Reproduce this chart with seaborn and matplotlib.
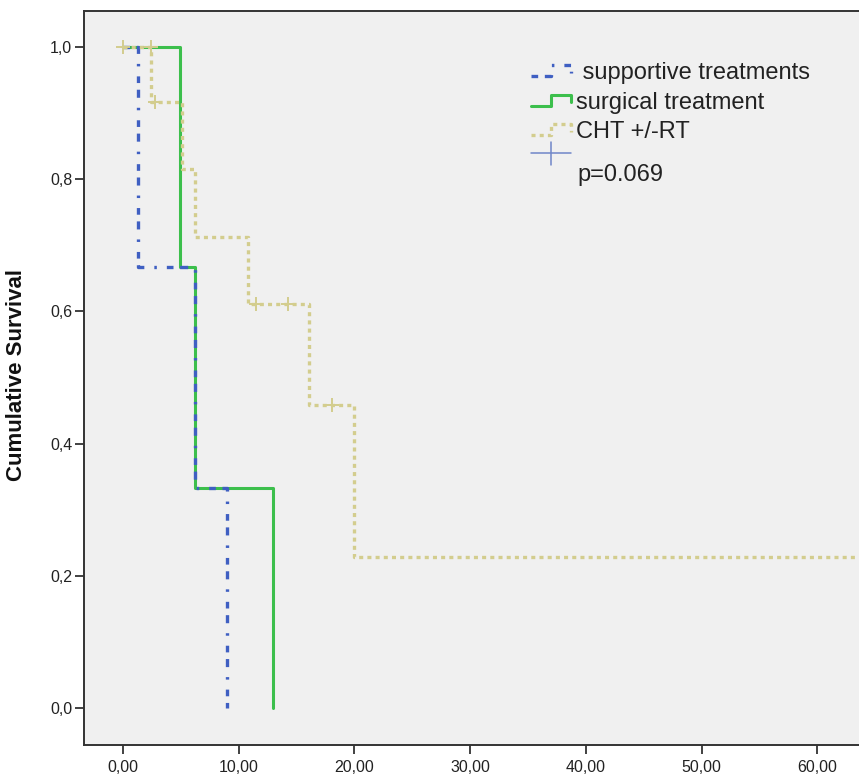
import matplotlib
matplotlib.use("Agg")
import numpy as np
import pandas as pd
import seaborn as sns
import matplotlib.pyplot as plt
from matplotlib.lines import Line2D
from matplotlib.legend_handler import HandlerBase
from matplotlib.ticker import FuncFormatter

# ---------------- data ----------------
group_names = ["supportive treatments", "surgical treatment", "CHT +/-RT"]

supp_time = [0.0, 1.3, 6.2, 9.0]
supp_surv = [1.0, 0.667, 0.333, 0.0]

surg_time = [0.0, 4.9, 6.2, 13.0]
surg_surv = [1.0, 0.667, 0.333, 0.0]

cht_time = [0.0, 2.4, 5.1, 6.2, 10.8, 16.1, 20.0, 66.0]
cht_surv = [1.0, 0.917, 0.815, 0.713, 0.611, 0.458, 0.229, 0.229]

cht_cens_time = [0.0, 2.4, 2.8, 11.5, 14.3, 18.1]
cht_cens_surv = [1.0, 1.0, 0.917, 0.611, 0.611, 0.458]

x_ticks = [0, 10, 20, 30, 40, 50, 60]
y_ticks = [0.0, 0.2, 0.4, 0.6, 0.8, 1.0]
p_text = "p=0.069"

# ---------------- style ----------------
sns.set_theme(style="ticks")
plt.rcParams["font.family"] = ["Liberation Sans", "DejaVu Sans"]
plt.rcParams["lines.scale_dashes"] = False

c_blue = "#3f5fc2"
c_green = "#3cbf4c"
c_yellow = "#d3cd8e"
c_cross = "#6f86c8"

W, H = 859, 779
fig = plt.figure(figsize=(W / 100, H / 100), dpi=100)
fig.patch.set_facecolor("white")
ax = fig.add_axes([84 / W, (H - 745) / H, 1 - 84 / W, (745 - 11) / H])
ax.set_facecolor("#f0f0f0")

df_supp = pd.DataFrame({"time": supp_time, "surv": supp_surv})
df_surg = pd.DataFrame({"time": surg_time, "surv": surg_surv})
df_cht = pd.DataFrame({"time": cht_time, "surv": cht_surv})
df_cens = pd.DataFrame({"time": cht_cens_time, "surv": cht_cens_surv})

sns.lineplot(data=df_surg, x="time", y="surv", ax=ax, color=c_green, lw=2.2,
             drawstyle="steps-post", estimator=None, sort=False)
l_surg = ax.lines[-1]

sns.lineplot(data=df_supp, x="time", y="surv", ax=ax, color=c_blue, lw=2.4,
             drawstyle="steps-post", estimator=None, sort=False)
l_supp = ax.lines[-1]
l_supp.set_dashes((4.8, 4.8, 5.8, 7.2, 1.8, 7.2))

sns.lineplot(data=df_cht, x="time", y="surv", ax=ax, color=c_yellow, lw=2.4,
             drawstyle="steps-post", estimator=None, sort=False)
l_cht = ax.lines[-1]
l_cht.set_dashes((2.9, 3.0))

sns.scatterplot(data=df_cens, x="time", y="surv", ax=ax, color=c_yellow,
                marker="+", s=110, linewidth=1.4, zorder=5)

# ---------------- axes ----------------
ax.set_xlim(-3.37, 63.6)
ax.set_ylim(-0.056, 1.0545)
ax.set_xticks(x_ticks)
ax.set_yticks(y_ticks)
ax.xaxis.set_major_formatter(FuncFormatter(lambda v, p: f"{v:.2f}".replace(".", ",")))
ax.yaxis.set_major_formatter(FuncFormatter(lambda v, p: f"{v:.1f}".replace(".", ",")))
ax.tick_params(axis="both", direction="out", length=6.5, width=1.3, color="#333333",
               labelsize=11.5, labelcolor="#222222", pad=2)
ax.tick_params(axis="x", pad=4)
ax.set_xlabel("")
ax.set_ylabel("Cumulative Survival", fontsize=16, fontweight="bold", color="#111111")
ax.yaxis.set_label_coords(-57 / 775, (745 - 375) / 734)
for side in ["left", "bottom", "top"]:
    ax.spines[side].set_color("#333333")
    ax.spines[side].set_linewidth(1.4)
ax.spines["right"].set_visible(False)


# ---------------- legend ----------------
class StepHandler(HandlerBase):
    def create_artists(self, legend, orig, xdescent, ydescent, width, height, fontsize, trans):
        xs = np.array([0, 0.5, 0.5, 1, 1]) * width - xdescent
        ys = np.array([0.1, 0.1, 0.9, 0.9, 0.35]) * height - ydescent
        ln = Line2D(xs, ys)
        ln.update_from(orig)
        ln.set_marker("None")
        ln.set_transform(trans)
        return [ln]


class CrossHandler(HandlerBase):
    def create_artists(self, legend, orig, xdescent, ydescent, width, height, fontsize, trans):
        shift = 4.3
        yc = height / 2 - ydescent + shift
        h = Line2D([-xdescent, width - xdescent], [yc, yc],
                   color=c_cross, lw=1.1, transform=trans)
        v = Line2D([width / 2 - xdescent] * 2, [yc - height * 0.8, yc + height * 0.8],
                   color=c_cross, lw=1.1, transform=trans)
        return [h, v]


cross_proxy = Line2D([], [], color=c_cross)
handles = [l_supp, l_surg, l_cht, cross_proxy]
labels = [" " + group_names[0], group_names[1], group_names[2], ""]
handler_map = {l_supp: StepHandler(), l_surg: StepHandler(), l_cht: StepHandler(),
               cross_proxy: CrossHandler()}
leg = ax.legend(handles, labels, handler_map=handler_map, loc="upper left",
                bbox_to_anchor=(531 / W, 1 - 62 / H), bbox_transform=fig.transFigure,
                frameon=False, fontsize=17, handlelength=1.7, handleheight=0.55,
                handletextpad=0.2, labelspacing=0.32, borderpad=0, borderaxespad=0)
for t in leg.get_texts():
    t.set_color("#222222")

fig.text(577 / W, 1 - 175 / H, p_text, fontsize=17, color="#222222",
         ha="left", va="center")

fig.savefig("out.png", dpi=100)
